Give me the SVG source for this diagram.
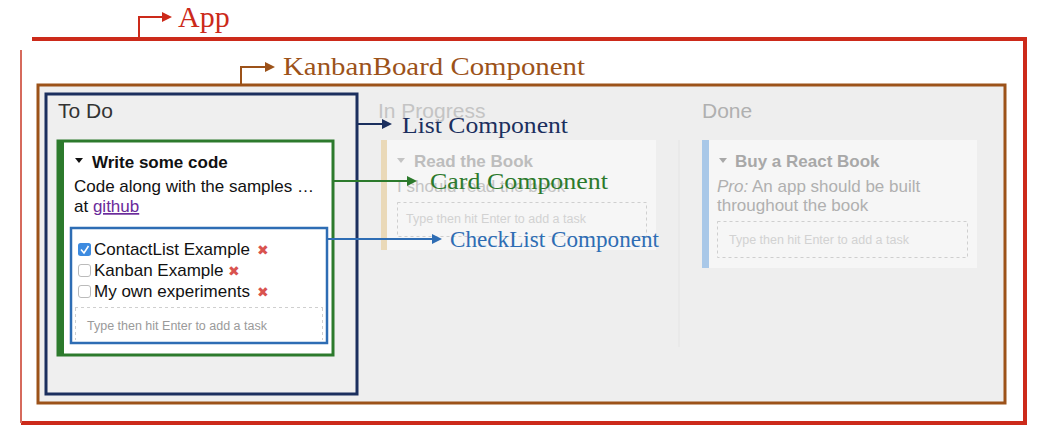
<svg xmlns="http://www.w3.org/2000/svg" width="1048" height="441" viewBox="0 0 1048 441">
<style>
.lbl{font-family:"Liberation Serif","Times New Roman",serif}
.ui{font-family:"Liberation Sans",Arial,sans-serif}
.ph{font-family:"Liberation Sans",Arial,sans-serif;font-size:12.5px}
.x{font-family:"DejaVu Sans",sans-serif;font-size:14px;fill:#d9534f}
.dash{fill:none;stroke:#cfcfcf;stroke-width:1;stroke-dasharray:3 3}
</style>
<defs>
<marker id="mRed" markerWidth="10" markerHeight="10" refX="8" refY="5" orient="auto" markerUnits="userSpaceOnUse"><path d="M0,0 L10,5 L0,10 z" fill="#cc2a1a"/></marker>
<marker id="mBrown" markerWidth="10" markerHeight="10" refX="8" refY="5" orient="auto" markerUnits="userSpaceOnUse"><path d="M0,0 L10,5 L0,10 z" fill="#9c5219"/></marker>
<marker id="mNavy" markerWidth="10" markerHeight="10" refX="8" refY="5" orient="auto" markerUnits="userSpaceOnUse"><path d="M0,0 L10,5 L0,10 z" fill="#1b2f5e"/></marker>
<marker id="mGreen" markerWidth="10" markerHeight="10" refX="8" refY="5" orient="auto" markerUnits="userSpaceOnUse"><path d="M0,0 L10,5 L0,10 z" fill="#2c7a2c"/></marker>
<marker id="mBlue" markerWidth="10" markerHeight="10" refX="8" refY="5" orient="auto" markerUnits="userSpaceOnUse"><path d="M0,0 L10,5 L0,10 z" fill="#2e6db4"/></marker>
</defs>
<rect width="1048" height="441" fill="#ffffff"/>

<g id="app">
<path d="M32,39 L1025,39 L1025,423 L21,423" fill="none" stroke="#cc2a1a" stroke-width="4"/>
<path d="M21,423 L21,50" fill="none" stroke="#d66a5c" stroke-width="2"/>
<text class="lbl" x="178" y="27" font-size="30" fill="#cc2a1a">App</text>
</g>

<g id="kanban">
<rect x="38" y="85" width="967" height="318" fill="#eeeeee"/>
<path d="M38,85 L1005,85 L1005,403 L38,403 Z" fill="none" stroke="#9c5219" stroke-width="3"/>
<line x1="679" y1="140" x2="679" y2="347" stroke="#e4e4e4" stroke-width="1"/>
<text class="lbl" x="283" y="75" font-size="25" fill="#9c5219" textLength="302" lengthAdjust="spacingAndGlyphs">KanbanBoard Component</text>
</g>

<g id="list">
<rect x="46" y="94" width="311" height="300" fill="#efefef" stroke="#1b2f5e" stroke-width="3"/>
<text class="ui" x="58" y="118" font-size="21" fill="#333333">To Do</text>
<text class="lbl" x="402" y="133" font-size="24" fill="#1b2f5e" textLength="166" lengthAdjust="spacingAndGlyphs">List Component</text>
</g>

<g id="inprogress">
<text class="ui" x="378" y="118" font-size="21" fill="#c4c4c4">In Progress</text>
<rect x="381" y="140" width="275" height="110" fill="#f6f6f6"/>
<rect x="381" y="140" width="6" height="110" fill="#ead9b8"/>
<path d="M397,158 L405,158 L401,163 Z" fill="#c4c4c4"/>
<text class="ui" x="414" y="167" font-size="17" font-weight="bold" fill="#bdbdbd">Read the Book</text>
<text class="ui" x="397" y="192" font-size="17" fill="#c4c4c4">I should read the book</text>
<rect class="dash" x="397.5" y="202.5" width="249" height="34"/>
<text class="ph" x="406" y="223" fill="#d2d2d2">Type then hit Enter to add a task</text>
</g>

<g id="done">
<text class="ui" x="702" y="118" font-size="21" fill="#b0b0b0">Done</text>
<rect x="702" y="140" width="275" height="128" fill="#f6f6f6"/>
<rect x="702" y="140" width="7" height="128" fill="#a9c8e8"/>
<path d="M719,158 L727,158 L723,163 Z" fill="#a8a8a8"/>
<text class="ui" x="735" y="167" font-size="17" font-weight="bold" fill="#a8a8a8">Buy a React Book</text>
<text class="ui" x="717" y="192" font-size="17" fill="#b0b0b0"><tspan font-style="italic">Pro:</tspan> An app should be built</text>
<text class="ui" x="717" y="211" font-size="17" fill="#b0b0b0">throughout the book</text>
<rect class="dash" x="717.5" y="221.5" width="250" height="36"/>
<text class="ph" x="729" y="244" fill="#d2d2d2">Type then hit Enter to add a task</text>
</g>

<g id="card">
<rect x="58" y="141" width="275" height="214" fill="#ffffff" stroke="#2c7a2c" stroke-width="3"/>
<rect x="57" y="140" width="7" height="216" fill="#2c7a2c"/>
<path d="M75,158 L83,158 L79,163 Z" fill="#111111"/>
<text class="ui" x="92" y="168" font-size="17" font-weight="bold" fill="#111111">Write some code</text>
<text class="ui" x="74" y="192" font-size="17" fill="#111111">Code along with the samples …</text>
<text class="ui" x="74" y="212" font-size="17" fill="#111111">at <tspan fill="#6a2a9a" text-decoration="underline">github</tspan></text>
<text class="lbl" x="430" y="189" font-size="24" fill="#2c7a2c" textLength="178" lengthAdjust="spacingAndGlyphs">Card Component</text>
</g>

<g id="checklist">
<rect x="71" y="228" width="256" height="115" fill="#ffffff" stroke="#2e6db4" stroke-width="2.5"/>
<rect x="78" y="243" width="13" height="13" rx="2.5" fill="#3d8be0"/>
<path d="M81,249.5 L84,253 L88.5,246" fill="none" stroke="#ffffff" stroke-width="1.6"/>
<text class="ui" x="94" y="255" font-size="17" fill="#111111">ContactList Example</text>
<text class="x" x="257" y="255">✖</text>
<rect x="78.5" y="264.5" width="12" height="12" rx="2.5" fill="#ffffff" stroke="#bbbbbb"/>
<text class="ui" x="94" y="276" font-size="17" fill="#111111">Kanban Example</text>
<text class="x" x="228" y="276">✖</text>
<rect x="78.5" y="285.5" width="12" height="12" rx="2.5" fill="#ffffff" stroke="#bbbbbb"/>
<text class="ui" x="94" y="297" font-size="17" fill="#111111">My own experiments</text>
<text class="x" x="257" y="297">✖</text>
<path class="dash" d="M75,307.5 L323,307.5 M75.5,308 L75.5,340 M322.5,308 L322.5,340"/>
<text class="ph" x="87" y="330" fill="#9a9a9a">Type then hit Enter to add a task</text>
<text class="lbl" x="450" y="247" font-size="23" fill="#2e6db4" textLength="209" lengthAdjust="spacingAndGlyphs">CheckList Component</text>
</g>

<g id="connectors" fill="none" stroke-width="2">
<path d="M139,38 L139,17 L170,17" stroke="#cc2a1a" marker-end="url(#mRed)"/>
<path d="M241,84 L241,67 L273,67" stroke="#9c5219" marker-end="url(#mBrown)"/>
<path d="M357,124 L390,124" stroke="#1b2f5e" marker-end="url(#mNavy)"/>
<path d="M333,181 L415,181" stroke="#2c7a2c" marker-end="url(#mGreen)"/>
<path d="M327,239 L440,239" stroke="#2e6db4" marker-end="url(#mBlue)"/>
</g>
</svg>
